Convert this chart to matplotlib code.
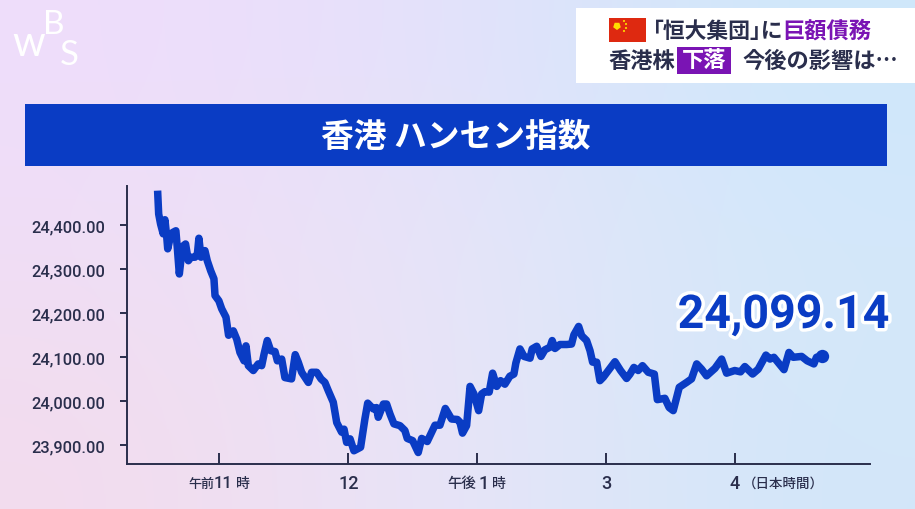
import numpy as np
import matplotlib
matplotlib.use('Agg')
import matplotlib.pyplot as plt
import matplotlib.patheffects as pe
from matplotlib.patches import Rectangle, RegularPolygon

plt.rcParams['font.family'] = ['Noto Sans CJK JP', 'DejaVu Sans']

# minutes after 11:00 on the compressed session axis, index level
times = [-28.4, -27.9, -27.0, -25.8, -25.0, -24.2, -23.7, -22.7, -21.4, -19.9, -19.2, -18.3,
         -17.5, -16.4, -15.4, -14.1, -12.9, -11.0, -9.9, -9.2, -8.2, -6.4, -5.3, -3.7, -2.2,
         -1.7, 0.1, 1.4, 3.4, 4.6, 6.8, 8.4, 9.9, 11.8, 12.7, 13.8, 16.1, 18.4, 20.0, 21.1,
         22.6, 24.2, 26.2, 27.3, 29.3, 30.8, 33.9, 35.6, 37.0, 38.6, 41.7, 43.2, 45.6, 47.6,
         49.4, 51.0, 53.3, 54.9, 57.2, 58.3, 59.5, 61.1, 62.9, 66.0, 68.0, 69.3, 71.9, 73.4,
         74.2, 76.6, 78.1, 79.7, 81.5, 84.3, 86.6, 87.7, 90.2, 92.8, 94.4, 97.0, 100.6, 102.9,
         105.4, 108.3, 111.0, 112.2, 113.4, 115.3, 116.9, 118.7, 120.9, 122.3, 123.8, 125.8,
         127.4, 129.3, 131.1, 133.1, 135.4, 137.3, 138.2, 140.1, 142.0, 144.8, 145.8, 147.9,
         149.9, 151.7, 154.1, 155.1, 156.4, 158.7, 161.8, 164.1, 165.2, 167.4, 168.8, 171.1,
         172.7, 173.9, 175.8, 177.3, 178.9, 181.2, 184.3, 186.9, 189.7, 191.3, 193.1, 195.1,
         197.1, 199.8, 202.6, 204.0, 207.5, 209.5, 211.4, 214.2, 217.6, 219.9, 222.3, 224.6,
         226.9, 230.8, 233.9, 236.2, 240.0, 242.7, 244.7, 248.3, 250.9, 254.5, 256.4, 258.2,
         262.9, 265.2, 267.2, 271.1, 273.7, 276.8, 278.0, 280.7]
values = [24478, 24425, 24402, 24380, 24412, 24376, 24346, 24368, 24383, 24387, 24346, 24289,
          24323, 24353, 24357, 24319, 24327, 24327, 24334, 24370, 24327, 24342, 24319, 24296, 24278,
          24240, 24228, 24210, 24191, 24150, 24160, 24141, 24111, 24092, 24126, 24081, 24070, 24085, 24081, 24107,
          24138, 24115, 24113, 24092, 24096, 24054, 24051, 24106, 24089, 24066, 24043, 24066, 24066, 24051,
          24043, 24024, 23998, 23952, 23930, 23937, 23907, 23915, 23888, 23896, 23960, 23996, 23983, 23986,
          23964, 23994, 23994, 23971, 23949, 23945, 23934, 23916, 23911, 23884, 23916, 23909, 23946, 23946,
          23984, 23960, 23959, 23953, 23928, 23945, 24034, 24017, 23979, 24017, 24022, 24021,
          24064, 24034, 24047, 24039, 24057, 24062, 24087, 24119, 24102, 24098, 24119, 24125,
          24102, 24117, 24123, 24138, 24120, 24129, 24129, 24130, 24151, 24170, 24149, 24138,
          24115, 24089, 24089, 24047, 24055, 24070, 24090, 24070, 24052, 24062, 24077, 24070,
          24081, 24066, 24062, 24004, 24007, 23986, 23979, 24032, 24043, 24051, 24085, 24073,
          24058, 24075, 24096, 24064, 24070, 24067, 24079, 24062, 24073, 24105, 24096, 24100,
          24072, 24111, 24100, 24102, 24092, 24085, 24100, 24104]

y_ticks = [23900, 24000, 24100, 24200, 24300, 24400]
x_ticks = [0, 60, 120, 180, 240]
last_label = '24,099.14'

BLUE = '#0a3cc4'
NAVY = '#2a2e4c'
PURPLE = '#7a14b4'
W, H = 915, 510

fig = plt.figure(figsize=(W / 100, H / 100), dpi=100)

# background + decorations in pixel coordinates
bg = fig.add_axes([0, 0, 1, 1])
grad = np.array([[[239, 221, 251], [228, 226, 250], [206, 232, 251]],
                 [[240, 222, 245], [231, 229, 249], [212, 232, 250]],
                 [[243, 220, 238], [232, 229, 249], [210, 231, 249]]]) / 255
bg.imshow(grad, extent=[0, W, H, 0], aspect='auto', interpolation='bicubic')
bg.set_xlim(0, W)
bg.set_ylim(H, 0)
bg.axis('off')

# title bar
bg.add_patch(Rectangle((25, 105), 862, 62, color=BLUE, lw=0))
bg.text(456, 138, '香港 ハンセン指数', color='white', fontsize=23.6, fontweight='bold', ha='center', va='center')

# headline box
bg.add_patch(Rectangle((576, 9), 339, 75, color='white', lw=0))
bg.add_patch(Rectangle((609, 19), 37, 24, color='#de2910', lw=0))
bg.add_patch(RegularPolygon((617, 27), 5, radius=4, color='#ffde00', lw=0))
for sx, sy in [(624, 22), (626, 25), (626, 29), (624, 32)]:
    bg.add_patch(RegularPolygon((sx, sy), 5, radius=1.2, color='#ffde00', lw=0))
bg.text(653, 31, '｢恒大集団｣に', color=NAVY, fontsize=15.7, fontweight='bold', ha='left', va='center')
bg.text(782, 31, '巨額債務', color=PURPLE, fontsize=16, fontweight='bold', ha='left', va='center')
bg.text(608, 61, '香港株', color=NAVY, fontsize=16, fontweight='bold', ha='left', va='center')
bg.add_patch(Rectangle((677, 48), 54, 27, color=PURPLE, lw=0))
bg.text(704, 61, '下落', color='white', fontsize=16, fontweight='bold', ha='center', va='center')
bg.text(742, 61, '今後の影響は…', color=NAVY, fontsize=16, fontweight='bold', ha='left', va='center')

# logo
bg.text(29, 44, 'w', color='white', fontsize=30, family='Lato', ha='center', va='center')
bg.text(54, 25, 'B', color='white', fontsize=24, family='Lato', ha='center', va='center')
bg.text(69, 55, 'S', color='white', fontsize=25, family='Lato', ha='center', va='center')

# chart
left, right, top, bottom = 127.5, 870, 187, 465
ax = fig.add_axes([left / W, 1 - bottom / H, (right - left) / W, (bottom - top) / H])
ax.patch.set_alpha(0)
ax.plot(times, values, color=BLUE, lw=5.4, solid_joinstyle='round', solid_capstyle='butt', clip_on=False)
ax.plot(times[-1], values[-1], 'o', color=BLUE, ms=9.6, mew=0)
ax.set_xlim(-42.4, 302.9)
ax.set_ylim(23858, 24488.5)
ax.spines['top'].set_visible(False)
ax.spines['right'].set_visible(False)
ax.spines['left'].set_color(NAVY)
ax.spines['bottom'].set_color(NAVY)
ax.spines['left'].set_linewidth(1.4)
ax.spines['bottom'].set_linewidth(1.4)
ax.set_yticks(y_ticks)
ax.set_yticklabels([f'{v:,.2f}' for v in y_ticks], family='Roboto', fontsize=11.8, fontweight='medium', color=NAVY)
ax.set_xticks(x_ticks)
ax.set_xticklabels([])
ax.tick_params(axis='y', direction='out', length=5, width=1.4, color=NAVY, pad=11)
ax.tick_params(axis='x', direction='in', length=8, width=1.4, color=NAVY)

# x labels mix small kanji and larger numerals
LAB = dict(color=NAVY, va='center', fontweight='medium')
bg.text(188, 484, '午前', fontsize=9.4, ha='left', **LAB)
bg.text(214, 484, '11', fontsize=12, family='Roboto', ha='left', **LAB)
bg.text(236, 484, '時', fontsize=10, ha='left', **LAB)
bg.text(349, 484, '12', fontsize=13, family='Roboto', ha='center', **LAB)
bg.text(447, 484, '午後', fontsize=10.4, ha='left', **LAB)
bg.text(484, 484, '1', fontsize=13, family='Roboto', ha='center', **LAB)
bg.text(492, 484, '時', fontsize=10, ha='left', **LAB)
bg.text(606, 484, '3', fontsize=13, family='Roboto', ha='center', **LAB)
bg.text(735, 484, '4', fontsize=13, family='Roboto', ha='center', **LAB)
bg.text(743, 484, '（日本時間）', fontsize=9.7, ha='left', **LAB)

# last value
ax.text(889, H - 316, last_label, transform=None, color=BLUE, fontsize=33.5, family='Roboto', fontweight='bold',
        ha='right', va='center', path_effects=[pe.withStroke(linewidth=5, foreground='white')])

fig.savefig('out.png', dpi=100)
